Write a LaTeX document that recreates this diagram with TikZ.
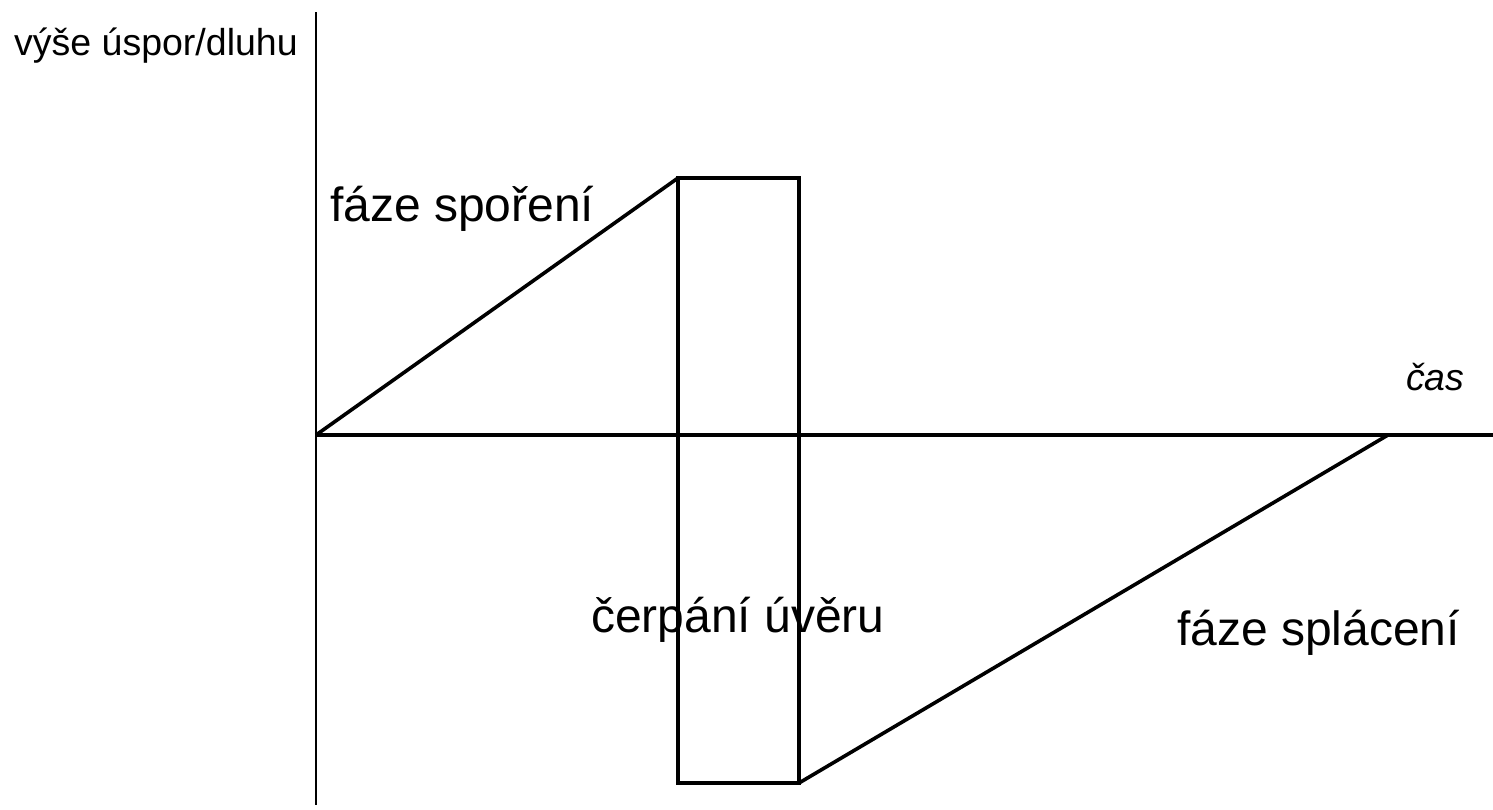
\documentclass[tikz,border=0pt]{standalone}
\usepackage{fontspec}
\setmainfont{Liberation Sans}
\begin{document}
\begin{tikzpicture}[x=1pt,y=-1pt,
  thick line/.style={line width=3.6pt, line join=miter},
  thin line/.style={line width=2pt},
  big/.style={anchor=base west, inner sep=0pt, font=\fontsize{48}{56}\selectfont},
  small/.style={anchor=base west, inner sep=0pt, font=\fontsize{37.5}{44}\selectfont}]
\useasboundingbox (0,0) rectangle (1493,809);
% coordinates
\coordinate (o) at (316,435);
\coordinate (ytop) at (316,12);
\coordinate (ybot) at (316,805);
\coordinate (xend) at (1493,435);
\coordinate (peak) at (678,178);
\coordinate (rtr) at (799,178);
\coordinate (rbl) at (678,783);
\coordinate (rbr) at (799,783);
\coordinate (end) at (1388,435);
% axes
\draw[thin line] (ytop) -- (ybot);
\draw[thick line] (o) -- (xend);
% curve
\draw[thick line] (o) -- (peak);
\draw[thick line] (peak) -- (rtr) -- (rbr) -- (rbl) -- cycle;
\draw[thick line] (rbr) -- (end);
% labels
\node[small] (ylab) at (14,55) {výše úspor/dluhu};
\node[small, font=\fontsize{37.5}{44}\selectfont\itshape] (xlab) at (1406,390) {čas};
\node[big] (sav) at (330,221) {fáze spoření};
\node[big] (draw) at (591,632) {čerpání úvěru};
\node[big] (rep) at (1177,645) {fáze splácení};
\end{tikzpicture}
\end{document}
